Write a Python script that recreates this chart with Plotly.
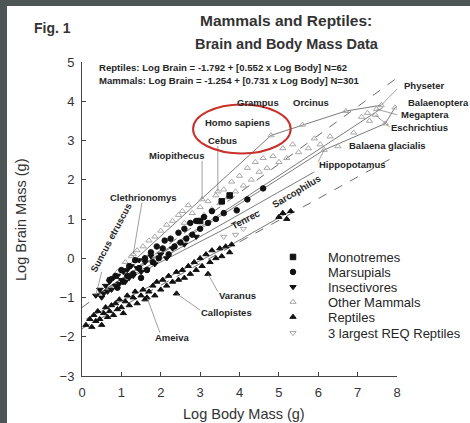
import plotly.graph_objects as go

# ---------------- data (log10 of grams) ----------------
x_ticks = [0, 1, 2, 3, 4, 5, 6, 7, 8]
y_ticks = [-3, -2, -1, 0, 1, 2, 3, 4, 5]

other_x = [0.9, 1.1, 1.25, 1.4, 1.55, 1.7, 1.85, 2.0, 2.15, 2.3, 2.45, 2.55, 2.7,
           2.6, 2.8, 2.9, 3.0, 3.1, 3.2, 3.3, 3.4, 3.5, 3.6, 3.7,
           3.8, 3.9, 4.0, 4.1, 4.2, 4.3, 4.4, 4.5, 4.6, 4.7, 4.85, 5.0, 5.1, 5.2, 5.35,
           5.5, 5.75, 5.9, 6.05, 6.3, 6.5, 6.9, 7.1, 7.25, 7.3]
other_y = [-0.35, -0.1, 0.05, 0.2, 0.3, 0.45, 0.55, 0.7, 0.85, 0.95, 1.1, 1.2, 1.35,
           0.9, 1.15, 0.95, 1.3, 1.1, 1.45, 1.25, 1.6, 1.4, 1.75, 1.55,
           1.95, 1.7, 2.1, 1.85, 2.3, 2.0, 2.45, 2.2, 2.55, 2.3, 2.6, 2.45, 2.8, 2.55, 2.9,
           2.7, 2.8, 3.05, 2.9, 3.1, 2.85, 3.2, 3.6, 3.7, 3.5]

marsup_x = [0.7, 0.85, 0.9, 1.0, 1.05, 1.15, 1.2, 1.3, 1.35, 1.45, 1.5, 1.6, 1.65, 1.75,
            1.8, 1.9, 1.95, 2.05, 2.1, 2.2, 2.25, 2.35, 2.45, 2.5, 2.6, 2.65, 2.75, 2.8,
            2.9, 3.0, 3.1, 3.2, 3.3, 3.4, 3.6, 3.93, 4.2, 4.6]
marsup_y = [-0.55, -0.45, -0.75, -0.3, -0.6, -0.45, -0.2, -0.4, -0.05, -0.25, -0.5, 0.0,
            -0.3, 0.15, -0.1, 0.3, 0.0, 0.25, 0.45, 0.1, 0.5, 0.3, 0.65, 0.4, 0.75, 0.5,
            0.9, 0.6, 0.95, 0.75, 1.05, 0.9, 1.2, 1.0, 1.15, 1.22, 1.5, 1.78]

insect_x = [0.45, 0.5, 0.55, 0.6, 0.65, 0.7, 0.75, 0.8, 0.85, 0.9, 0.95, 1.0, 1.05, 1.1,
            1.15, 1.2, 1.25, 1.3, 1.4, 1.45, 1.5, 1.6, 1.65, 1.75, 1.85, 2.0, 2.15, 2.3,
            2.6, 2.9]
insect_y = [-0.8, -1.0, -0.9, -0.7, -0.85, -0.6, -0.8, -0.5, -0.7, -0.45, -0.65, -0.55,
            -0.35, -0.6, -0.3, -0.5, -0.2, -0.45, -0.25, -0.05, -0.35, -0.1, -0.3, 0.05,
            -0.15, 0.1, 0.0, 0.25, 0.35, 0.55]

mono_x = [3.0, 3.55, 3.75]
mono_y = [0.95, 1.45, 1.6]

rept_x = [0.1, 0.2, 0.25, 0.3, 0.35, 0.4, 0.45, 0.5, 0.55, 0.6, 0.65, 0.7, 0.75, 0.8, 0.85,
          0.9, 0.95, 1.0, 1.05, 1.1, 1.15, 1.2, 1.3, 1.35, 1.4, 1.5, 1.55, 1.6, 1.7, 1.8,
          1.85, 1.9, 2.0, 2.05, 2.15, 2.2, 2.3, 2.4, 2.45, 2.55, 2.6, 2.7, 2.75, 2.85, 2.9,
          3.0, 3.05, 3.15, 3.25, 3.3, 3.4, 3.5, 3.55, 3.65, 3.75, 3.8, 5.0, 5.1, 5.2, 5.3]
rept_y = [-1.7, -1.55, -1.75, -1.45, -1.6, -1.35, -1.55, -1.7, -1.4, -1.25, -1.5, -1.35,
          -1.2, -1.45, -1.15, -1.3, -1.05, -1.25, -1.4, -1.1, -0.95, -1.2, -1.0, -0.85,
          -1.15, -0.95, -0.8, -1.05, -0.85, -0.7, -0.95, -0.6, -0.8, -0.55, -0.7, -0.45,
          -0.6, -0.35, -0.55, -0.3, -0.5, -0.2, -0.4, -0.1, -0.3, 0.0, -0.2, 0.1, -0.1,
          0.2, 0.0, 0.25, 0.05, 0.3, 0.15, 0.35, 1.05, 1.15, 1.0, 1.2]

req_x = [3.6, 3.9, 4.1]
req_y = [0.55, 0.6, 0.75]

named_species = ["Physeter", "Balaenoptera", "Megaptera", "Eschrichtius", "Orcinus", "Grampus",
                 "Homo sapiens", "Cebus", "Miopithecus", "Clethrionomys", "Balaena glacialis",
                 "Hippopotamus", "Suncus etruscus", "Varanus", "Callopistes", "Ameiva"]
named_group = ["Other Mammals"] * 12 + ["Insectivores", "Reptiles", "Reptiles", "Reptiles"]
named_body = [7.6, 7.95, 7.48, 7.45, 6.7, 5.6, 4.8, 3.45, 3.05, 1.3, 7.7, 6.15, 0.35, 3.2, 2.4, 1.65]
named_brain = [3.9, 3.84, 3.8, 3.65, 3.75, 3.4, 3.13, 1.7, 1.5, 0.1, 3.43, 2.76, -0.95, -0.4, -0.9, -1.0]

reg_groups = ["Reptiles", "Mammals"]
reg_intercept = [-1.792, -1.254]
reg_slope = [0.552, 0.731]
reg_n = [62, 301]

# envelope lines drawn round the groups
env_mam_upper_x = [0.35, 4.8, 6.7, 7.6]
env_mam_upper_y = [-0.95, 3.13, 3.75, 3.9]
env_mam_whale_x = [0.35, 7.64]
env_mam_whale_y = [-0.95, 3.84]
env_mam_lower_x = [0.35, 6.15, 7.7, 7.95]
env_mam_lower_y = [-0.95, 2.76, 3.43, 3.84]
env_marsup_x = [0.8, 5.9]
env_marsup_y = [-0.7, 2.2]
env_insect_x = [0.35, 4.5]
env_insect_y = [-0.95, 1.2]
env_rept_x = [0.1, 3.8, 5.3]
env_rept_y = [-1.55, 0.35, 1.2]

# ---------------- layout helpers ----------------
W, H = 470, 423
ML, MR, MT, MB = 82, 73, 62, 47
PW, PH = W - ML - MR, H - MT - MB
XR = [x_ticks[0], x_ticks[-1]]
YR = [y_ticks[0], y_ticks[-1]]


def px(xp, yp):
    """pixel -> paper coordinates"""
    return (xp - ML) / PW, (H - MB - yp) / PH


def d2p(x, y):
    """data -> paper coordinates (so labels outside the axis range still show)"""
    return (x - XR[0]) / (XR[1] - XR[0]), (y - YR[0]) / (YR[1] - YR[0])


FONT = "Liberation Sans, Arial, sans-serif"
INK = "#262626"
LINE = "#5a5a5a"

fig = go.Figure()

# envelopes
for ex, ey in [(env_mam_upper_x, env_mam_upper_y), (env_mam_whale_x, env_mam_whale_y),
               (env_mam_lower_x, env_mam_lower_y), (env_marsup_x, env_marsup_y),
               (env_insect_x, env_insect_y), (env_rept_x, env_rept_y)]:
    fig.add_trace(go.Scatter(x=ex, y=ey, mode="lines", line=dict(color=LINE, width=0.8),
                             showlegend=False, hoverinfo="skip"))

# regression lines
for g, a, b in zip(reg_groups, reg_intercept, reg_slope):
    fig.add_trace(go.Scatter(x=XR, y=[a + b * v for v in XR], mode="lines",
                             line=dict(color=LINE, width=0.9, dash="dash"),
                             showlegend=False, hoverinfo="skip"))


def with_named(group, xs, ys):
    nx = [b for b, g in zip(named_body, named_group) if g == group]
    ny = [b for b, g in zip(named_brain, named_group) if g == group]
    return list(xs) + nx, list(ys) + ny


series = [
    ("Monotremes", mono_x, mono_y, "square", "#111111"),
    ("Marsupials", marsup_x, marsup_y, "circle", "#111111"),
    ("Insectivores", insect_x, insect_y, "triangle-down", "#111111"),
    ("Other Mammals", other_x, other_y, "triangle-up-open", "#a8a8a8"),
    ("Reptiles", rept_x, rept_y, "triangle-up", "#111111"),
    ("3 largest REQ Reptiles", req_x, req_y, "triangle-down-open", "#a8a8a8"),
]
legend_rows_px = [257, 272, 287, 302, 317, 333]
plot_order = [3, 0, 1, 2, 4, 5]
legend_layouts = {}
for i in plot_order:
    name, xs, ys, sym, col = series[i]
    xs2, ys2 = with_named(name, xs, ys)
    key = "legend" if i == 0 else "legend%d" % (i + 1)
    fig.add_trace(go.Scatter(x=xs2, y=ys2, mode="markers", name=name, legend=key,
                             marker=dict(symbol=sym, size=5.5, color=col,
                                         line=dict(width=1, color=col))))
    lx, ly = px(258, legend_rows_px[i])
    legend_layouts[key] = dict(x=lx, y=ly, xanchor="left", yanchor="middle",
                               bgcolor="rgba(0,0,0,0)", borderwidth=0, itemwidth=60,
                               font=dict(family=FONT, size=13, color=INK))

# labels: name -> (text x, text y, angle, leader start x, leader start y)   [data units]
label_layout = {
    "Physeter": (8.69, 4.41, 0, 8.02, 4.33),
    "Balaenoptera": (9.05, 3.98, 0, 8.23, 3.93),
    "Megaptera": (8.71, 3.65, 0, 8.02, 3.65),
    "Eschrichtius": (8.58, 3.32, 0, 7.82, 3.34),
    "Orcinus": (5.82, 3.98, 0, None, None),
    "Grampus": (4.47, 3.96, 0, None, None),
    "Homo sapiens": (3.96, 3.45, 0, None, None),
    "Cebus": (3.56, 3.01, 0, 3.45, 2.86),
    "Miopithecus": (2.39, 2.61, 0, 3.05, 2.48),
    "Clethrionomys": (1.55, 1.56, 0, 1.52, 1.41),
    "Balaena glacialis": (7.75, 2.86, 0, None, None),
    "Hippopotamus": (6.86, 2.38, 0, 6.0, 2.46),
    "Suncus etruscus": (0.74, 0.52, -62, 0.5, -0.35),
    "Varanus": (3.94, -0.94, 0, 3.45, -0.85),
    "Callopistes": (3.68, -1.39, 0, 3.0, -1.32),
    "Ameiva": (2.29, -2.03, 0, 1.98, -1.9),
}
free_labels = [("Sarcophilus", 5.43, 1.71, -31), ("Tenrec", 4.14, 1.0, -27)]

annotations = []
shapes = []
lab_font = dict(family=FONT, size=9.5, color=INK)
for nm, bx, by in zip(named_species, named_body, named_brain):
    tx, ty, ang, lx0, ly0 = label_layout[nm]
    ax, ay = d2p(tx, ty)
    annotations.append(dict(x=ax, y=ay, xref="paper", yref="paper", text="<b>%s</b>" % nm,
                            showarrow=False, textangle=ang, xanchor="center",
                            yanchor="middle", font=lab_font))
    if lx0 is not None:
        shapes.append(dict(type="line", xref="x", yref="y", x0=lx0, y0=ly0, x1=bx, y1=by,
                           line=dict(color="#777777", width=0.7)))
for t, tx, ty, ang in free_labels:
    ax, ay = d2p(tx, ty)
    annotations.append(dict(x=ax, y=ay, xref="paper", yref="paper", text="<b>%s</b>" % t,
                            showarrow=False, textangle=ang, xanchor="center",
                            yanchor="middle", font=lab_font))

# equations
for k, (g, a, b, n) in enumerate(zip(reg_groups, reg_intercept, reg_slope, reg_n)):
    ex, ey = px(97, 67 + 13 * k)
    annotations.append(dict(x=ex, y=ey, xref="paper", yref="paper", xanchor="left",
                            yanchor="middle", showarrow=False,
                            text="<b>%s: Log Brain = %.3f + [%.3f x Log Body] N=%d</b>" % (g, a, b, n),
                            font=dict(family=FONT, size=9.6, color=INK)))

# titles
for txt, (xp, yp), size in [("<b>Fig. 1</b>", (52, 28), 14),
                            ("<b>Mammals and Reptiles:</b>", (286, 20), 15.5),
                            ("<b>Brain and Body Mass Data</b>", (287, 44), 14.5),
                            ("Log Body Mass (g)", (244, 414), 14.5)]:
    ax, ay = px(xp, yp)
    annotations.append(dict(x=ax, y=ay, xref="paper", yref="paper", text=txt, showarrow=False,
                            xanchor="center", yanchor="middle",
                            font=dict(family=FONT, size=size, color="#333333")))
ax, ay = px(21, 220)
annotations.append(dict(x=ax, y=ay, xref="paper", yref="paper", text="Log Brain Mass (g)",
                        showarrow=False, textangle=-90, xanchor="center", yanchor="middle",
                        font=dict(family=FONT, size=14.5, color="#333333")))

# slide background: dark frame with white sheet
x0, y1 = px(7, 6)
x1, y0 = px(W, H)
shapes.insert(0, dict(type="rect", xref="paper", yref="paper", x0=x0, y0=y0, x1=x1, y1=y1,
                      fillcolor="white", line=dict(width=0), layer="below"))
# red ellipse
shapes.append(dict(type="circle", xref="x", yref="y", x0=2.82, x1=5.30, y0=2.67, y1=3.92,
                   line=dict(color="#c8322c", width=2)))

axis_common = dict(showline=True, linecolor="#444444", linewidth=1, ticks="inside", ticklen=4,
                   tickcolor="#444444", showgrid=False, zeroline=False,
                   tickfont=dict(family=FONT, size=13, color="#333333"), ticklabelstandoff=4)
fig.update_layout(
    width=W, height=H, margin=dict(l=ML, r=MR, t=MT, b=MB, autoexpand=False),
    paper_bgcolor="#4e5555", plot_bgcolor="rgba(0,0,0,0)",
    xaxis=dict(range=XR, tickvals=x_ticks, **axis_common),
    yaxis=dict(range=YR, tickvals=y_ticks, **axis_common),
    annotations=annotations, shapes=shapes, **legend_layouts,
)
fig.write_html("out.html")
